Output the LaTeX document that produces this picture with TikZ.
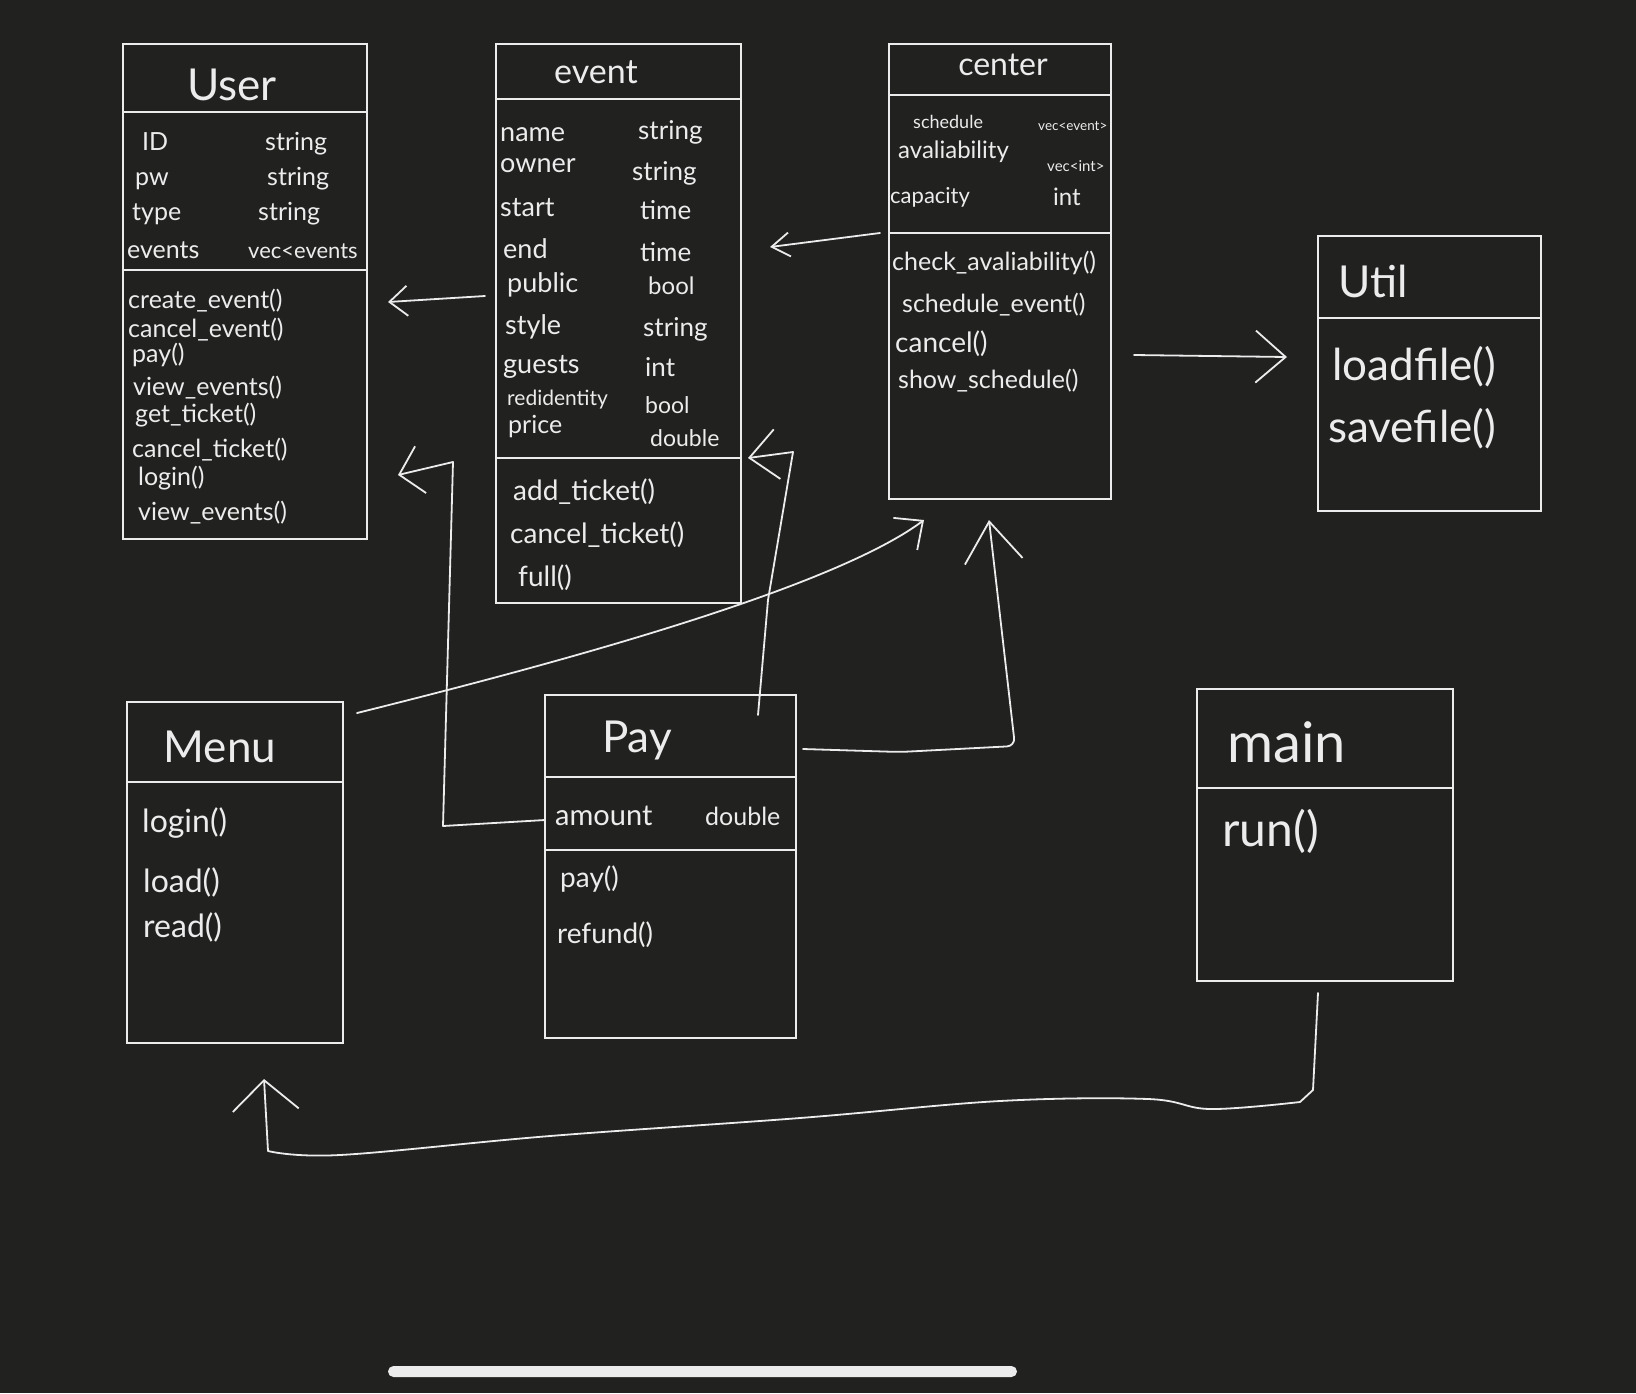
\documentclass[tikz,border=0pt]{standalone}
\usepackage{fontspec}
\setmainfont{Lato}
\usetikzlibrary{arrows.meta,calc}
\definecolor{bg}{RGB}{33,33,32}
\definecolor{fg}{RGB}{236,236,236}
\newcommand\szf[1]{\fontsize{#1}{#1}\selectfont}
\begin{document}
\begin{tikzpicture}[x=1pt,y=-1pt,
  box/.style={draw=fg,line width=1.8pt,anchor=north west,inner sep=0pt,outer sep=0pt},
  ln/.style={draw=fg,line width=1.8pt,line cap=round,line join=round},
  tx/.style={anchor=base west,inner sep=0pt,text=fg,font=\szf{#1}},
  tt/.style={anchor=base,inner sep=0pt,text=fg,font=\szf{#1}},
]
\fill[bg] (0,0) rectangle (1636,1393);
\useasboundingbox (0,0) rectangle (1636,1393);

% ---------- boxes ----------
\node[box,minimum width=244pt,minimum height=495pt] (user) at (123,44) {};
\draw[ln] ($(user.north west)+(0,68)$) -- ($(user.north east)+(0,68)$);
\draw[ln] ($(user.north west)+(0,226)$) -- ($(user.north east)+(0,226)$);

\node[box,minimum width=245pt,minimum height=559pt] (event) at (496,44) {};
\draw[ln] ($(event.north west)+(0,55)$) -- ($(event.north east)+(0,55)$);
\draw[ln] ($(event.north west)+(0,414)$) -- ($(event.north east)+(0,414)$);

\node[box,minimum width=222pt,minimum height=455pt] (center) at (889,44) {};
\draw[ln] ($(center.north west)+(0,51)$) -- ($(center.north east)+(0,51)$);
\draw[ln] ($(center.north west)+(0,189)$) -- ($(center.north east)+(0,189)$);

\node[box,minimum width=223pt,minimum height=275pt] (util) at (1318,236) {};
\draw[ln] ($(util.north west)+(0,82)$) -- ($(util.north east)+(0,82)$);

\node[box,minimum width=216pt,minimum height=341pt] (menu) at (127,702) {};
\draw[ln] ($(menu.north west)+(0,80)$) -- ($(menu.north east)+(0,80)$);

\node[box,minimum width=251pt,minimum height=343pt] (pay) at (545,695) {};
\draw[ln] ($(pay.north west)+(0,82)$) -- ($(pay.north east)+(0,82)$);
\draw[ln] ($(pay.north west)+(0,155)$) -- ($(pay.north east)+(0,155)$);

\node[box,minimum width=256pt,minimum height=292pt] (main) at (1197,689) {};
\draw[ln] ($(main.north west)+(0,99)$) -- ($(main.north east)+(0,99)$);

% ---------- User ----------
\node[tt=44] (ut) at (232,100) {User};
\node[tx=25] (ua1) at (142,150) {ID};
\node[tx=25] (ua2) at (135,185) {pw};
\node[tx=25] (ua3) at (132,220) {type};
\node[tx=25] (ua4) at (127,258) {events};
\node[tx=25] (ub1) at (265,150) {string};
\node[tx=25] (ub2) at (267,185) {string};
\node[tx=25] (ub3) at (258,220) {string};
\node[tx=22] (ub4) at (248,258) {vec<events};
\node[tx=25] (um1) at (128,308) {create\_event()};
\node[tx=25] (um2) at (128,337) {cancel\_event()};
\node[tx=25] (um3) at (132,362) {pay()};
\node[tx=25] (um4) at (133,395) {view\_events()};
\node[tx=25] (um5) at (135,422) {get\_ticket()};
\node[tx=25] (um6) at (132,457) {cancel\_ticket()};
\node[tx=25] (um7) at (138,485) {login()};
\node[tx=25] (um8) at (138,520) {view\_events()};

% ---------- event ----------
\node[tt=34] (et) at (596,83) {event};
\node[tx=27] (ea1) at (500,141) {name};
\node[tx=27] (ea2) at (500,172) {owner};
\node[tx=27] (ea3) at (500,216) {start};
\node[tx=27] (ea4) at (503,258) {end};
\node[tx=27] (ea5) at (507,292) {public};
\node[tx=27] (ea6) at (505,334) {style};
\node[tx=27] (ea7) at (503,373) {guests};
\node[tx=21] (ea8) at (507,405) {redidentity};
\node[tx=25] (ea9) at (508,433) {price};
\node[tx=26] (eb1) at (638,139) {string};
\node[tx=26] (eb2) at (632,180) {string};
\node[tx=26] (eb3) at (640,219) {time};
\node[tx=26] (eb4) at (640,261) {time};
\node[tx=24] (eb5) at (648,294) {bool};
\node[tx=26] (eb6) at (643,336) {string};
\node[tx=26] (eb7) at (645,376) {int};
\node[tx=23] (eb8) at (645,413) {bool};
\node[tx=23] (eb9) at (650,446) {double};
\node[tx=28] (em1) at (513,500) {add\_ticket()};
\node[tx=28] (em2) at (510,543) {cancel\_ticket()};
\node[tx=28] (em3) at (518,586) {full()};

% ---------- center ----------
\node[tt=32] (ct) at (1003,75) {center};
\node[tx=18] (ca1) at (913,128) {schedule};
\node[tx=13.5] (cb1) at (1038,130) {vec<event>};
\node[tx=24] (ca2) at (898,158) {avaliability};
\node[tx=15] (cb2) at (1047,171) {vec<int>};
\node[tx=22] (ca3) at (890,203) {capacity};
\node[tx=24] (cb3) at (1053,205) {int};
\node[tx=25] (cm1) at (892,270) {check\_avaliability()};
\node[tx=25] (cm2) at (902,312) {schedule\_event()};
\node[tx=28] (cm3) at (895,352) {cancel()};
\node[tx=25] (cm4) at (898,388) {show\_schedule()};

% ---------- Util ----------
\node[tx=44] (vt) at (1338,297) {Util};
\node[tx=44] (vm1) at (1332,380) {loadfile()};
\node[tx=44] (vm2) at (1328,442) {savefile()};

% ---------- Menu ----------
\node[tt=44] (mt) at (220,762) {Menu};
\node[tx=32] (mm1) at (142,832) {login()};
\node[tx=32] (mm2) at (143,892) {load()};
\node[tx=32] (mm3) at (143,937) {read()};

% ---------- Pay ----------
\node[tt=44] (pt) at (637,752) {Pay};
\node[tx=29] (pa1) at (555,825) {amount};
\node[tx=25] (pb1) at (705,825) {double};
\node[tx=28] (pm1) at (560,887) {pay()};
\node[tx=28] (pm2) at (557,943) {refund()};

% ---------- main ----------
\node[tx=56] (nt) at (1227,762) {main};
\node[tx=48] (nm1) at (1222,846) {run()};

% ---------- connectors ----------
% event -> User
\draw[ln,-{Straight Barb[length=18pt,width=30pt]}]
  ($(event.north west)+(-11,252)$) -- ($(user.north east)+(21,258)$);
% center -> event
\draw[ln,-{Straight Barb[length=18pt,width=24pt]}]
  ($(center.north west)+(-9,189)$) -- ($(event.north east)+(29,203)$);
% center -> Util
\draw[ln,-{Straight Barb[length=30pt,width=52pt]}]
  ($(center.north east)+(23,311)$) -- ($(util.north west)+(-31,121)$);
% Pay -> User
\draw[ln,-{Straight Barb[length=22pt,width=48pt]}]
  ($(pay.north west)+(0,125)$) -- (443,826) -- (453,462) -- ($(user.north east)+(31,431)$);
% Pay -> event
\draw[ln,-{Straight Barb[length=28pt,width=50pt]}]
  ($(pay.north east)+(-38,20)$) -- (768,600) -- (793,452) -- ($(event.north east)+(7,414)$);
% Menu -> center
\draw[ln,-{Straight Barb[length=22pt,width=40pt]}]
  ($(menu.north east)+(14,11)$) .. controls (550,665) and (830,590) .. ($(center.south west)+(35,21)$);
% Pay -> center
\draw[ln,rounded corners=8pt,-{Straight Barb[length=40pt,width=58pt]}]
  ($(pay.north east)+(7,54)$) -- (900,752) -- (1015,746) -- ($(center.south west)+(100,21)$);
% main -> Menu
\draw[ln,-{Straight Barb[length=30pt,width=66pt]}]
  ($(main.south)+(-7,12)$) -- (1313,1090)
  -- plot[smooth,tension=0.6] coordinates {(1300,1102) (1210,1109) (1148,1099) (1000,1101) (800,1118) (550,1136) (340,1155) (268,1151)}
  -- ($(menu.south)+(29,36)$);

% home indicator bar
\fill[fg,rounded corners=5.5pt] (388,1366) rectangle (1017,1377);
\end{tikzpicture}
\end{document}
